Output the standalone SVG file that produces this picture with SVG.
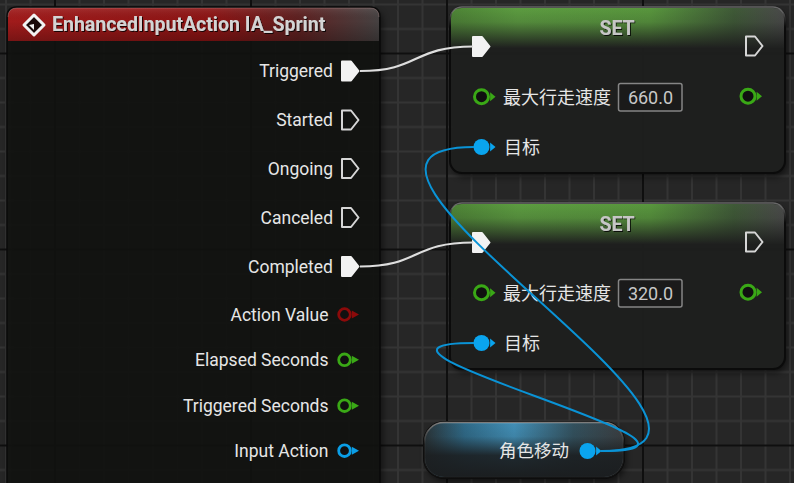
<svg xmlns="http://www.w3.org/2000/svg" xmlns:xlink="http://www.w3.org/1999/xlink" width="794" height="483" viewBox="0 0 794 483">
<style>
  .lbl { font-family: Roboto, "Noto Sans CJK SC", sans-serif; font-size: 17.5px; fill: #e6e6e6; }
  .cjk { font-family: "Noto Sans CJK SC", Roboto, sans-serif; font-size: 18px; fill: #e6e6e6; }
  .ttl { font-family: Roboto, "Liberation Sans", sans-serif; font-size: 19.5px; font-weight: bold; fill: #d4d4d4; }
  .val { font-family: Roboto, "Liberation Sans", sans-serif; font-size: 18px; fill: #c8c8c8; }
  .exec-open { fill: none; stroke: #d6d6d6; stroke-width: 2; stroke-linejoin: round; }
  .exec-full { fill: #f2f2f2; stroke: #f2f2f2; stroke-width: 2; stroke-linejoin: round; }
  .wire-exec { fill: none; stroke: #dedede; stroke-width: 2.2; }
  .wire-obj { fill: none; stroke: #0a93d6; stroke-width: 2; }
</style>
<defs>
  <pattern id="grid" patternUnits="userSpaceOnUse" x="55" y="53.5" width="196" height="196">
    <rect width="196" height="196" fill="#262626"/>
    <g stroke="#343434" stroke-width="2">
      <line x1="24.5" y1="0" x2="24.5" y2="196"/><line x1="49" y1="0" x2="49" y2="196"/>
      <line x1="73.5" y1="0" x2="73.5" y2="196"/><line x1="98" y1="0" x2="98" y2="196"/>
      <line x1="122.5" y1="0" x2="122.5" y2="196"/><line x1="147" y1="0" x2="147" y2="196"/>
      <line x1="171.5" y1="0" x2="171.5" y2="196"/>
      <line y1="24.5" x1="0" y2="24.5" x2="196"/><line y1="49" x1="0" y2="49" x2="196"/>
      <line y1="73.5" x1="0" y2="73.5" x2="196"/><line y1="98" x1="0" y2="98" x2="196"/>
      <line y1="122.5" x1="0" y2="122.5" x2="196"/><line y1="147" x1="0" y2="147" x2="196"/>
      <line y1="171.5" x1="0" y2="171.5" x2="196"/>
    </g>
    <g fill="#0f0f0f">
      <rect x="0" y="0" width="1" height="196"/><rect x="195" y="0" width="1" height="196"/>
      <rect x="0" y="0" width="196" height="1"/><rect x="0" y="195" width="196" height="1"/>
    </g>
  </pattern>
  <linearGradient id="redH" x1="0" y1="0" x2="1" y2="0">
    <stop offset="0" stop-color="#a11b1b"/>
    <stop offset="0.55" stop-color="#8c1414"/>
    <stop offset="0.78" stop-color="#5e2020"/>
    <stop offset="1" stop-color="#454141"/>
  </linearGradient>
  <linearGradient id="shadeV" x1="0" y1="0" x2="0" y2="1">
    <stop offset="0" stop-color="#ffffff" stop-opacity="0.10"/>
    <stop offset="0.4" stop-color="#000000" stop-opacity="0"/>
    <stop offset="1" stop-color="#000000" stop-opacity="0.25"/>
  </linearGradient>
  <linearGradient id="greenH" x1="0" y1="0" x2="1" y2="0">
    <stop offset="0" stop-color="#4e8536"/>
    <stop offset="0.2" stop-color="#5c9c40"/>
    <stop offset="0.6" stop-color="#58963d"/>
    <stop offset="0.85" stop-color="#3f5a37"/>
    <stop offset="1" stop-color="#4a4a4a"/>
  </linearGradient>
  <linearGradient id="fadeSet" x1="0" y1="0" x2="0" y2="1">
    <stop offset="0" stop-color="#1f201f" stop-opacity="0"/>
    <stop offset="0.35" stop-color="#1f201f" stop-opacity="0.15"/>
    <stop offset="1" stop-color="#1f201f" stop-opacity="1"/>
  </linearGradient>
  <linearGradient id="blueH" x1="0" y1="0" x2="1" y2="0">
    <stop offset="0" stop-color="#2a3438"/>
    <stop offset="0.2" stop-color="#2f6a88"/>
    <stop offset="0.45" stop-color="#428fb6"/>
    <stop offset="0.75" stop-color="#33515e"/>
    <stop offset="1" stop-color="#3a3e41"/>
  </linearGradient>
  <linearGradient id="fadeGet" x1="0" y1="0" x2="0" y2="1">
    <stop offset="0" stop-color="#1b1e20" stop-opacity="0"/>
    <stop offset="0.25" stop-color="#1b1e20" stop-opacity="0.1"/>
    <stop offset="0.6" stop-color="#1b1e20" stop-opacity="0.9"/>
    <stop offset="1" stop-color="#1b1e20" stop-opacity="1"/>
  </linearGradient>
  <linearGradient id="rimTop" x1="0" y1="0" x2="0" y2="1">
    <stop offset="0" stop-color="#bbbbbb" stop-opacity="0.55"/>
    <stop offset="0.12" stop-color="#bbbbbb" stop-opacity="0"/>
    <stop offset="1" stop-color="#bbbbbb" stop-opacity="0"/>
  </linearGradient>
  <linearGradient id="rimGet" x1="0" y1="0" x2="0" y2="1">
    <stop offset="0" stop-color="#c8c8c8" stop-opacity="0.6"/>
    <stop offset="0.4" stop-color="#c8c8c8" stop-opacity="0.1"/>
    <stop offset="1" stop-color="#c8c8c8" stop-opacity="0.05"/>
  </linearGradient>
  <filter id="ts" x="-5%" y="-20%" width="110%" height="140%">
    <feDropShadow dx="1" dy="1" stdDeviation="0.6" flood-color="#000" flood-opacity="0.8"/>
  </filter>
  <filter id="blur4" x="-10%" y="-10%" width="120%" height="130%">
    <feGaussianBlur stdDeviation="3"/>
  </filter>
  <path id="exec" d="M0,-9.5 H9 L16.5,0 L9,9.5 H0 Z"/>
  <g id="dpin">
    <circle cx="0" cy="0" r="5.8" fill="#101010" stroke="currentColor" stroke-width="2.8"/>
    <path d="M7.3,-4 L14.5,0 L7.3,4 Z" fill="currentColor"/>
  </g>
  <g id="dpinL">
    <circle cx="0" cy="0" r="7" fill="#101010" stroke="currentColor" stroke-width="3"/>
    <path d="M8.6,-4.5 L14,0 L8.6,4.5 Z" fill="currentColor"/>
  </g>
  <g id="opinL">
    <circle cx="0" cy="0" r="8" fill="currentColor"/>
    <path d="M8.6,-4.5 L14,0 L8.6,4.5 Z" fill="currentColor"/>
  </g>
</defs>

<rect width="794" height="483" fill="url(#grid)"/>

<g id="node-ia-sprint">
  <rect x="9" y="10" width="374" height="490" rx="10" fill="#000" opacity="0.5" filter="url(#blur4)"/>
  <path d="M7,17 Q7,7 17,7 H370 Q380,7 380,17 V500 H7 Z" fill="#121311" fill-opacity="0.88" stroke="#0a0a0a" stroke-width="1.5"/>
  <path d="M8,17 Q8,8 17,8 H370 Q379,8 379,17 V41 H8 Z" fill="url(#redH)"/>
  <path d="M8,17 Q8,8 17,8 H370 Q379,8 379,17 V41 H8 Z" fill="url(#shadeV)"/>
  <path d="M8,17 Q8,8 17,8 H370 Q379,8 379,17" fill="none" stroke="#c9a0a0" stroke-opacity="0.35" stroke-width="1"/>
  <g transform="translate(34,25)">
    <path d="M0,-10 L10,0 L0,10 L-10,0 Z" fill="#1a0a0a" stroke="#f2f2f2" stroke-width="3" stroke-linejoin="round"/>
    <path d="M-5,0 L0,5 L0,-1 Z" fill="#f2f2f2"/>
  </g>
  <text class="ttl" x="52" y="31" filter="url(#ts)">EnhancedInputAction IA_Sprint</text>

  <text class="lbl" x="333" y="77.2" text-anchor="end">Triggered</text>
  <use href="#exec" x="342" y="71" class="exec-full"/>
  <text class="lbl" x="333" y="126.2" text-anchor="end">Started</text>
  <use href="#exec" x="342" y="120" class="exec-open"/>
  <text class="lbl" x="333" y="174.7" text-anchor="end">Ongoing</text>
  <use href="#exec" x="342" y="168.5" class="exec-open"/>
  <text class="lbl" x="333" y="223.7" text-anchor="end">Canceled</text>
  <use href="#exec" x="342" y="217.5" class="exec-open"/>
  <text class="lbl" x="333" y="272.7" text-anchor="end">Completed</text>
  <use href="#exec" x="342" y="266.5" class="exec-full"/>

  <text class="lbl" x="328.5" y="320.8" text-anchor="end">Action Value</text>
  <use href="#dpin" x="344.5" y="314.5" style="color:#8c0a0a"/>
  <text class="lbl" x="328.5" y="366" text-anchor="end">Elapsed Seconds</text>
  <use href="#dpin" x="344.5" y="359.8" style="color:#3aa816"/>
  <text class="lbl" x="328.5" y="412" text-anchor="end">Triggered Seconds</text>
  <use href="#dpin" x="344.5" y="405.7" style="color:#3aa816"/>
  <text class="lbl" x="328.5" y="457" text-anchor="end">Input Action</text>
  <use href="#dpin" x="344.5" y="450.7" style="color:#0a9ee6"/>
</g>

<g id="node-set-1">
  <rect x="452" y="11" width="335" height="166" rx="13" fill="#000" opacity="0.55" filter="url(#blur4)"/>
  <rect x="450" y="7" width="335" height="166" rx="12" fill="#1f201f" fill-opacity="0.94" stroke="#0b0b0b" stroke-width="2"/>
  <path d="M451,19 Q451,8 462,8 H773 Q784,8 784,19 V48 H451 Z" fill="url(#greenH)"/>
  <path d="M451,19 Q451,8 462,8 H773 Q784,8 784,19 V48 H451 Z" fill="url(#fadeSet)"/>
  <rect x="450" y="7" width="335" height="166" rx="12" fill="none" stroke="url(#rimTop)" stroke-width="1.5"/>
  <text class="ttl" x="617" y="35" text-anchor="middle" filter="url(#ts)" style="fill:#c6c6c6">SET</text>
  <use href="#exec" x="473" y="46.5" class="exec-full"/>
  <use href="#exec" x="746" y="46" class="exec-open"/>
  <use href="#dpinL" x="481.5" y="96.7" style="color:#3aa816"/>
  <text class="cjk" x="503" y="103.6">最大行走速度</text>
  <rect x="618.5" y="83.5" width="63.5" height="27.5" rx="2" fill="#1a1a1a" stroke="#858585" stroke-width="1.5"/>
  <text class="val" x="650.5" y="104" text-anchor="middle">660.0</text>
  <use href="#dpinL" x="748" y="96.2" style="color:#3aa816"/>
  <use href="#opinL" x="481.5" y="147" style="color:#0aa4ee"/>
  <text class="cjk" x="504" y="153.8">目标</text>
</g>

<g id="node-set-2" transform="translate(0,196)">
  <rect x="452" y="11" width="335" height="166" rx="13" fill="#000" opacity="0.55" filter="url(#blur4)"/>
  <rect x="450" y="7" width="335" height="166" rx="12" fill="#1f201f" fill-opacity="0.94" stroke="#0b0b0b" stroke-width="2"/>
  <path d="M451,19 Q451,8 462,8 H773 Q784,8 784,19 V48 H451 Z" fill="url(#greenH)"/>
  <path d="M451,19 Q451,8 462,8 H773 Q784,8 784,19 V48 H451 Z" fill="url(#fadeSet)"/>
  <rect x="450" y="7" width="335" height="166" rx="12" fill="none" stroke="url(#rimTop)" stroke-width="1.5"/>
  <text class="ttl" x="617" y="35" text-anchor="middle" filter="url(#ts)" style="fill:#c6c6c6">SET</text>
  <use href="#exec" x="473" y="46.5" class="exec-full"/>
  <use href="#exec" x="746" y="46" class="exec-open"/>
  <use href="#dpinL" x="481.5" y="96.7" style="color:#3aa816"/>
  <text class="cjk" x="503" y="103.6">最大行走速度</text>
  <rect x="618.5" y="83.5" width="63.5" height="27.5" rx="2" fill="#1a1a1a" stroke="#858585" stroke-width="1.5"/>
  <text class="val" x="650.5" y="104" text-anchor="middle">320.0</text>
  <use href="#dpinL" x="748" y="96.2" style="color:#3aa816"/>
  <use href="#opinL" x="481.5" y="147" style="color:#0aa4ee"/>
  <text class="cjk" x="504" y="153.8">目标</text>
</g>

<g id="node-get-move">
  <rect x="426" y="426" width="200" height="56" rx="20" fill="#000" opacity="0.55" filter="url(#blur4)"/>
  <rect x="424" y="422" width="200" height="56" rx="20" fill="#1b1e20" stroke="#0b0b0b" stroke-width="2"/>
  <rect x="425" y="423" width="198" height="54" rx="19" fill="url(#blueH)"/>
  <rect x="425" y="423" width="198" height="54" rx="19" fill="url(#fadeGet)"/>
  <rect x="424.5" y="422.5" width="199" height="55" rx="19.5" fill="none" stroke="url(#rimGet)" stroke-width="1.5"/>
  <text class="cjk" x="569" y="457.3" text-anchor="end" style="font-size:17.5px">角色移动</text>
  <use href="#opinL" x="587.5" y="451" style="color:#0aa4ee"/>
</g>

<g id="connectors">
  <path class="wire-exec" d="M360,71 C420,71 412,46.5 473,46.5"/>
  <path class="wire-exec" d="M360,266.5 C420,266.5 412,242.5 473,242.5"/>
  <path class="wire-obj" d="M601,451 C808,451 266,147 474,147"/>
  <path class="wire-obj" d="M601,451 C768,451 307,343 474,343"/>
</g>
</svg>
